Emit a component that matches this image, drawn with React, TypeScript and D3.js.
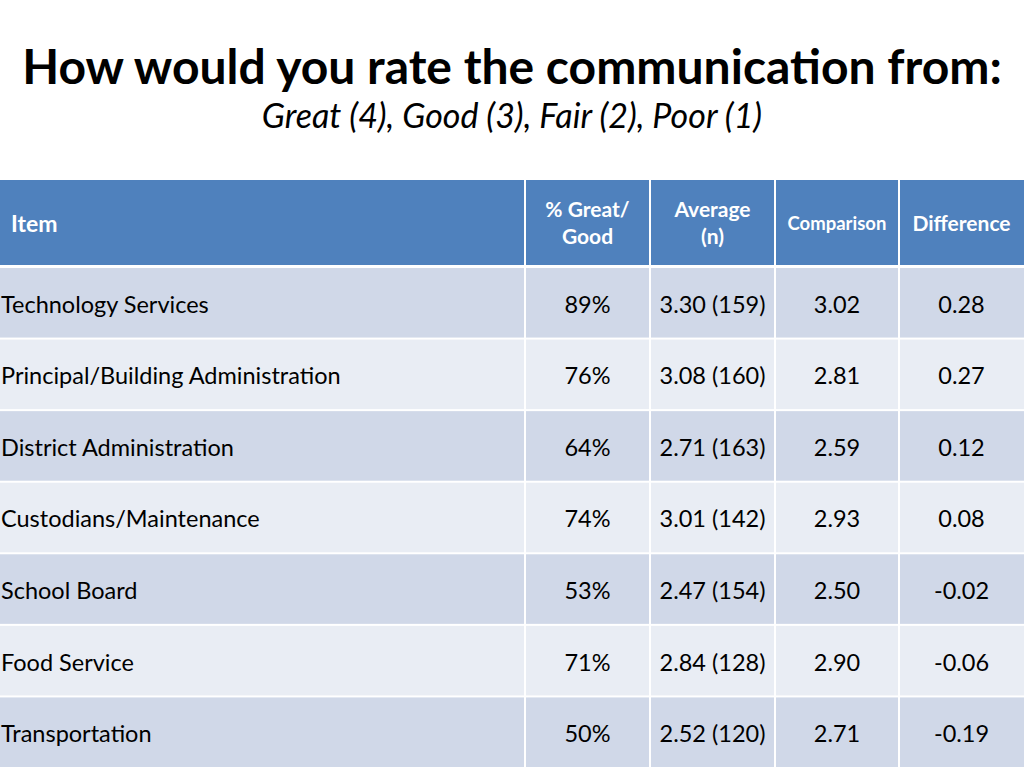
import React from "react";
import * as d3 from "d3";

const items = [
  "Technology Services",
  "Principal/Building Administration",
  "District Administration",
  "Custodians/Maintenance",
  "School Board",
  "Food Service",
  "Transportation",
];
const pctGreatGood = [89, 76, 64, 74, 53, 71, 50];
const averages = [3.3, 3.08, 2.71, 3.01, 2.47, 2.84, 2.52];
const counts = [159, 160, 163, 142, 154, 128, 120];
const comparisons = [3.02, 2.81, 2.59, 2.93, 2.5, 2.9, 2.71];
const differences = [0.28, 0.27, 0.12, 0.08, -0.02, -0.06, -0.19];

const columns = ["Item", "% Great/|Good", "Average|(n)", "Comparison", "Difference"];

const W = 1024;
const H = 768;
const FONT = "Lato, 'Open Sans', sans-serif";

export default function App() {
  const tableTop = 180;
  const headerH = 87;
  const colEdges = [0, 525, 650, 775, 899, 1024];
  const y = d3
    .scaleBand<number>()
    .domain(d3.range(items.length))
    .range([tableTop + headerH, H])
    .paddingInner(0);
  const f2 = (v: number) => d3.format(".2f")(v).replace("\u2212", "-");
  const rows = items.map((it, i) => [
    it,
    `${pctGreatGood[i]}%`,
    `${f2(averages[i])} (${counts[i]})`,
    f2(comparisons[i]),
    f2(differences[i]),
  ]);

  return (
    <svg
      width={W}
      height={H}
      style={{ position: "absolute", left: 0, top: 0, background: "#fff" }}
    >
      <text
        x={512}
        y={84}
        textAnchor="middle"
        fontFamily={FONT}
        fontWeight={700}
        fontSize={48}
        fill="#000"
      >
        How would you rate the communication from:
      </text>
      <text
        x={512}
        y={128}
        textAnchor="middle"
        fontFamily={FONT}
        fontStyle="italic"
        fontSize={34}
        fill="#000"
      >
        Great (4), Good (3), Fair (2), Poor (1)
      </text>

      {/* header */}
      {columns.map((c, j) => {
        const x0 = colEdges[j];
        const x1 = colEdges[j + 1];
        const lines = c.split("|");
        const cx = (x0 + x1) / 2;
        const cy = tableTop + headerH / 2;
        const fs = c === "Comparison" ? 18.5 : lines.length > 1 ? 21 : j === 0 ? 23 : 21;
        return (
          <g key={c}>
            <rect
              x={x0 + (j > 0 ? 1 : 0)}
              y={tableTop}
              width={x1 - x0 - (j > 0 ? 1 : 0) - (j < columns.length - 1 ? 1 : 0)}
              height={headerH - 2}
              fill="#4F81BD"
            />
            {lines.map((ln, k) => (
              <text
                key={k}
                x={j === 0 ? 11 : cx}
                y={cy + (k - (lines.length - 1) / 2) * 27}
                dy="0.35em"
                textAnchor={j === 0 ? "start" : "middle"}
                fontFamily={FONT}
                fontWeight={700}
                fontSize={fs}
                fill="#fff"
              >
                {ln}
              </text>
            ))}
          </g>
        );
      })}

      {/* body */}
      {rows.map((r, i) => {
        const y0 = y(i)!;
        const h = y.bandwidth();
        return (
          <g key={i}>
            {r.map((v, j) => {
              const x0 = colEdges[j];
              const x1 = colEdges[j + 1];
              return (
                <g key={j}>
                  <rect
                    x={x0 + (j > 0 ? 1 : 0)}
                    y={y0 + 1}
                    width={x1 - x0 - (j > 0 ? 1 : 0) - (j < columns.length - 1 ? 1 : 0)}
                    height={h - 2}
                    fill={i % 2 === 0 ? "#D0D8E8" : "#E9EDF4"}
                  />
                  <text
                    x={j === 0 ? 1 : (x0 + x1) / 2}
                    y={y0 + h / 2}
                    dy="0.42em"
                    textAnchor={j === 0 ? "start" : "middle"}
                    fontFamily={FONT}
                    fontSize={23.5}
                    fill="#000"
                  >
                    {v}
                  </text>
                </g>
              );
            })}
          </g>
        );
      })}
    </svg>
  );
}
